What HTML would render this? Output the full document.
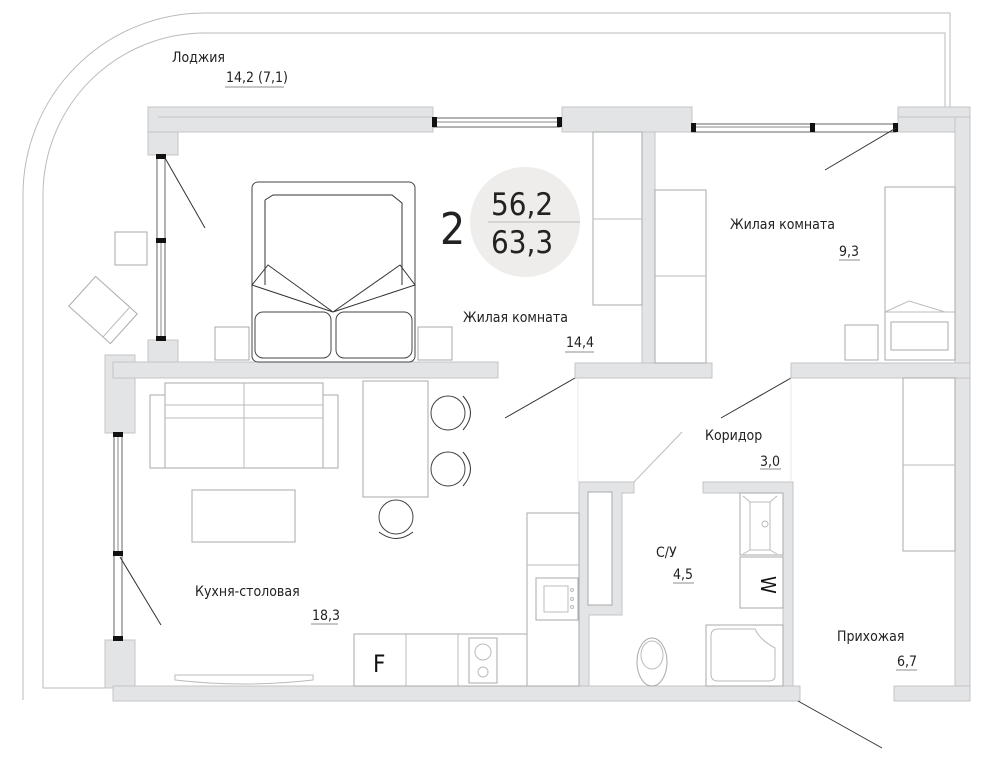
<!DOCTYPE html>
<html><head><meta charset="utf-8"><style>
html,body{margin:0;padding:0;background:#fff;}
svg{display:block;}
text{font-family:"DejaVu Sans Condensed","Liberation Sans",sans-serif;fill:#222;}
.w{fill:#e3e4e5;stroke:#c4c5c6;stroke-width:1;}
.f{fill:#fff;stroke:#aaa;stroke-width:1;}
.fd{fill:#fff;stroke:#444;stroke-width:1;}
.l{stroke:#333;stroke-width:1;fill:none;}
.g{stroke:#bbb;stroke-width:1;fill:none;}
.j{fill:#111;}
.lab{font-size:14px;}
.u{stroke:#666;stroke-width:0.8;}
</style></head><body>
<svg width="1000" height="760" viewBox="0 0 1000 760" xmlns="http://www.w3.org/2000/svg">
<!-- loggia outline -->
<path class="g" d="M950,108 V13 H205 A182,182 0 0 0 23,195 V700"/>
<path class="g" d="M945,108 V33 H205 A162,162 0 0 0 43,195 V688 H105"/>
<!-- walls -->
<rect class="w" x="148" y="107" width="285" height="25"/>
<line x1="158" y1="117" x2="433" y2="117" stroke="#c4c5c6"/>
<rect class="w" x="148" y="132" width="30" height="23"/>
<rect class="w" x="562" y="107" width="130" height="25"/>
<rect class="w" x="898" y="107" width="72" height="10"/>
<rect class="w" x="898" y="117" width="57" height="15"/>
<rect class="w" x="955" y="117" width="15" height="584"/>
<rect class="w" x="148" y="340" width="30" height="23"/>
<rect class="w" x="105" y="355" width="30" height="78"/>
<rect class="w" x="113" y="362" width="385" height="16"/>
<rect class="w" x="105" y="640" width="30" height="48"/>
<rect class="w" x="113" y="686" width="687" height="15"/>
<rect class="w" x="894" y="686" width="76" height="15"/>
<rect class="w" x="642" y="132" width="13" height="231"/>
<rect class="w" x="575" y="363" width="137" height="15"/>
<rect class="w" x="791" y="363" width="179" height="15"/>
<path class="w" d="M579,482 H634 V493 H622 V615 H589 V686 H579 Z"/>
<rect x="588" y="492" width="24" height="113" class="f"/>
<path class="w" d="M703,482 H793 V686 H783 V493 H703 Z"/>
<!-- windows -->
<rect x="433" y="118" width="127" height="9" fill="#fff" stroke="#666"/>
<line x1="433" y1="122" x2="560" y2="122" stroke="#888"/>
<rect class="j" x="432" y="117" width="5" height="10"/><rect class="j" x="557" y="117" width="5" height="10"/>
<rect x="692" y="124" width="204" height="8" fill="#fff" stroke="#666"/>
<line x1="692" y1="127" x2="812" y2="127" stroke="#888"/>
<rect class="j" x="691" y="123" width="5" height="9"/><rect class="j" x="810" y="123" width="5" height="9"/><rect class="j" x="893" y="123" width="5" height="9"/>
<rect x="157" y="155" width="8" height="185" fill="#fff" stroke="#666"/>
<line x1="161" y1="240" x2="161" y2="338" stroke="#888"/>
<rect class="j" x="156" y="154" width="10" height="5"/><rect class="j" x="156" y="238" width="10" height="5"/><rect class="j" x="156" y="336" width="10" height="5"/>
<rect x="114" y="433" width="8" height="207" fill="#fff" stroke="#666"/>
<line x1="118" y1="433" x2="118" y2="552" stroke="#888"/>
<rect class="j" x="113" y="432" width="10" height="5"/><rect class="j" x="113" y="551" width="10" height="5"/><rect class="j" x="113" y="636" width="10" height="5"/>
<!-- door swings -->
<line class="l" x1="165" y1="158" x2="205" y2="228"/>
<line class="l" x1="120" y1="557" x2="161" y2="625"/>
<line class="l" x1="575" y1="378" x2="505" y2="418"/>
<line class="l" x1="791" y1="378" x2="721" y2="418"/>
<line class="l" x1="896" y1="128" x2="825" y2="170"/>
<line class="l" x1="798" y1="701" x2="882" y2="748"/>
<line class="g" x1="682" y1="432" x2="634" y2="482"/>
<line x1="578" y1="378" x2="578" y2="482" stroke="#e8e8e8"/>
<line x1="791" y1="378" x2="791" y2="482" stroke="#e8e8e8"/>
<!-- bedroom furniture -->
<rect class="fd" x="252" y="182" width="163" height="180" rx="6"/>
<path class="l" d="M265,200 L273,195 H392 L402,203 V285 M265,200 V285"/>
<path class="l" d="M268,265 L252,285 L333,312 Z M400,265 L415,285 L333,312 Z"/>
<rect class="fd" x="255" y="312" width="76" height="46" rx="8"/>
<rect class="fd" x="336" y="312" width="76" height="46" rx="8"/>
<rect class="f" x="215" y="327" width="34" height="33"/>
<rect class="f" x="418" y="327" width="34" height="33"/>
<rect class="f" x="115" y="232" width="32" height="33"/>
<g transform="rotate(42 103 310)"><rect class="f" x="75" y="290" width="56" height="40"/><line class="g" x1="121" y1="290" x2="121" y2="330"/></g>
<!-- circle area -->
<circle cx="525" cy="222" r="55" fill="#efedeb"/>
<line x1="488" y1="222" x2="580" y2="222" stroke="#bbb"/>
<text x="440" y="244" style="font-size:44px">2</text>
<text x="491" y="215" style="font-size:31px">56,2</text>
<text x="491" y="253" style="font-size:31px">63,3</text>
<!-- wardrobes -->
<rect class="f" x="593" y="132" width="49" height="173"/><line class="g" x1="593" y1="219" x2="642" y2="219"/>
<rect class="f" x="655" y="190" width="51" height="173"/><line class="g" x1="655" y1="276" x2="706" y2="276"/>
<rect class="f" x="885" y="187" width="70" height="173"/>
<path class="g" d="M885,312 L909,301 L945,312 M885,312 H955"/>
<rect class="f" x="891" y="322" width="57" height="28"/>
<rect class="f" x="845" y="325" width="33" height="35"/>
<rect class="f" x="903" y="378" width="52" height="173"/><line class="g" x1="903" y1="465" x2="955" y2="465"/>
<!-- living -->
<rect class="f" x="150" y="395" width="188" height="73"/>
<rect class="f" x="165" y="383" width="158" height="85"/>
<line class="g" x1="165" y1="405" x2="323" y2="405"/><line class="g" x1="165" y1="418" x2="323" y2="418"/>
<line class="g" x1="244" y1="383" x2="244" y2="468"/>
<rect class="f" x="192" y="490" width="103" height="52"/>
<rect class="f" x="363" y="381" width="65" height="116"/>
<circle cx="448" cy="413" r="17" class="fd"/><path class="l" d="M463,396 Q478,413 463,430"/>
<circle cx="448" cy="469" r="17" class="fd"/><path class="l" d="M463,452 Q478,469 463,486"/>
<circle cx="396" cy="517" r="17" class="fd"/><path class="l" d="M379,532 Q396,545 413,532"/>
<path class="g" d="M175,675 H313 V680 Q244,688 175,680 Z"/>
<!-- kitchen -->
<rect class="f" x="527" y="513" width="52" height="173"/><line class="g" x1="527" y1="565" x2="579" y2="565"/>
<rect class="f" x="536" y="578" width="42" height="42"/><rect class="g" x="544" y="586" width="24" height="26"/>
<circle cx="572" cy="590" r="1.5" class="g"/><circle cx="572" cy="599" r="1.5" class="g"/><circle cx="572" cy="607" r="1.5" class="g"/>
<rect class="f" x="354" y="634" width="173" height="52"/>
<line class="g" x1="406" y1="634" x2="406" y2="686"/><line class="g" x1="458" y1="634" x2="458" y2="686"/>
<text x="373" y="672" style="font-size:24px;fill:#111">F</text>
<rect class="f" x="469" y="638" width="28" height="45"/><circle cx="483" cy="652" r="8" class="g"/><circle cx="483" cy="672" r="5" class="g"/>
<!-- bathroom -->
<rect class="f" x="740" y="493" width="43" height="62"/><path class="g" d="M743,496 L750,502 V550 L743,554 M777,496 L770,502 V550 L777,554 M750,502 H770 M750,550 H770"/>
<circle cx="765" cy="524" r="3" class="g"/>
<rect class="f" x="740" y="557" width="43" height="51"/>
<text x="755" y="582" transform="rotate(90 761 582)" style="font-size:20px;fill:#111">W</text>
<rect class="f" x="706" y="625" width="77" height="61"/>
<path class="g" d="M718,629 H755 Q760,640 775,648 V676 Q775,681 768,681 H718 Q711,681 711,674 V636 Q711,629 718,629 Z"/>
<ellipse cx="652" cy="662" rx="15" ry="24" class="f"/><ellipse cx="652" cy="655" rx="11" ry="14" class="g"/>
<!-- labels -->
<text class="lab" x="172" y="62">Лоджия</text>
<text class="lab" x="226" y="82">14,2 (7,1)</text><line class="u" x1="225" y1="87" x2="284" y2="87"/>
<text class="lab" x="463" y="322">Жилая комната</text>
<text class="lab" x="566" y="347">14,4</text><line class="u" x1="565" y1="352" x2="594" y2="352"/>
<text class="lab" x="730" y="229">Жилая комната</text>
<text class="lab" x="839" y="256">9,3</text><line class="u" x1="839" y1="260" x2="860" y2="260"/>
<text class="lab" x="195" y="596">Кухня-столовая</text>
<text class="lab" x="312" y="620">18,3</text><line class="u" x1="311" y1="624" x2="338" y2="624"/>
<text class="lab" x="705" y="440">Коридор</text>
<text class="lab" x="760" y="466">3,0</text><line class="u" x1="760" y1="469" x2="781" y2="469"/>
<text class="lab" x="656" y="557">С/У</text>
<text class="lab" x="673" y="579">4,5</text><line class="u" x1="673" y1="583" x2="694" y2="583"/>
<text class="lab" x="837" y="641">Прихожая</text>
<text class="lab" x="897" y="666">6,7</text><line class="u" x1="896" y1="670" x2="917" y2="670"/>
</svg>
</body></html>
